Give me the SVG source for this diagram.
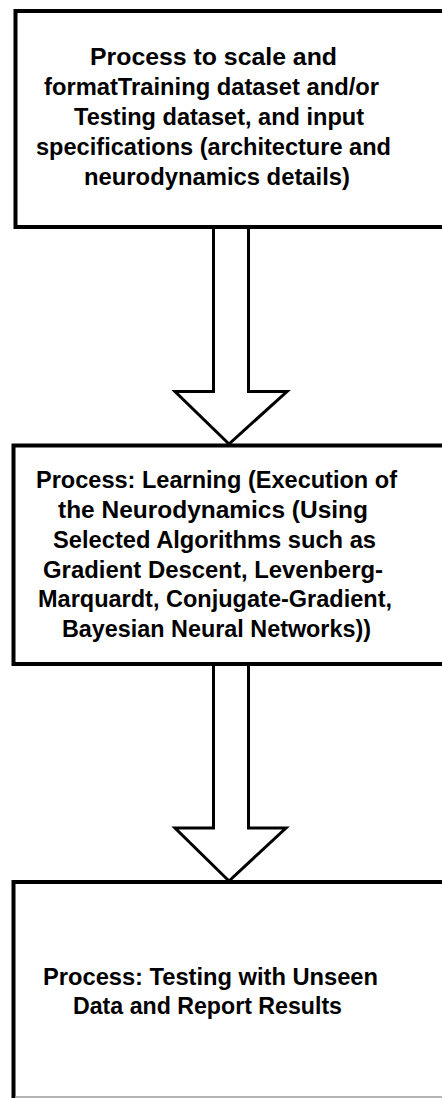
<svg xmlns="http://www.w3.org/2000/svg" width="442" height="1098" viewBox="0 0 442 1098">
  <style>
    .box { fill: #ffffff; stroke: #000000; stroke-width: 4; }
    .edge { fill: none; stroke: #000000; stroke-width: 4; }
    .faint { fill: none; stroke: #9a9a9a; stroke-width: 1.5; }
    .flow { fill: #ffffff; stroke: #000000; stroke-width: 3; stroke-linejoin: miter; }
    .label { font-family: "Liberation Sans", Arial, Helvetica, sans-serif; font-weight: bold; font-size: 23.5px; fill: #000000; }
  </style>
  <rect x="0" y="0" width="442" height="1098" fill="#ffffff"/>

  <!-- block arrows between the stages -->
  <g id="connectors">
    <path class="flow" d="M213.5 227 V391.5 H175 L229 444 L287 391.5 H248.5 V227"/>
    <path class="flow" d="M213.5 664 V828 H175 L229 881 L286 828 H248.5 V664"/>
  </g>

  <!-- stage 1: data preparation -->
  <g id="node-prepare">
    <rect class="box" x="15.5" y="11" width="440" height="216"/>
    <text class="label" x="213.5" y="65" text-anchor="middle" textLength="247" lengthAdjust="spacingAndGlyphs">Process to scale and</text>
    <text class="label" x="211.5" y="95" text-anchor="middle" textLength="335" lengthAdjust="spacingAndGlyphs">formatTraining dataset and/or</text>
    <text class="label" x="219" y="125" text-anchor="middle" textLength="290" lengthAdjust="spacingAndGlyphs">Testing dataset, and input</text>
    <text class="label" x="213.5" y="155" text-anchor="middle" textLength="355" lengthAdjust="spacingAndGlyphs">specifications (architecture and</text>
    <text class="label" x="217" y="185" text-anchor="middle" textLength="266" lengthAdjust="spacingAndGlyphs">neurodynamics details)</text>
  </g>

  <!-- stage 2: learning -->
  <g id="node-learning">
    <rect class="box" x="13.5" y="445.5" width="440" height="218.5"/>
    <text class="label" x="216.5" y="488" text-anchor="middle" textLength="361" lengthAdjust="spacingAndGlyphs">Process: Learning (Execution of</text>
    <text class="label" x="213" y="518" text-anchor="middle" textLength="310" lengthAdjust="spacingAndGlyphs">the Neurodynamics (Using</text>
    <text class="label" x="214.5" y="548" text-anchor="middle" textLength="323" lengthAdjust="spacingAndGlyphs">Selected Algorithms such as</text>
    <text class="label" x="213" y="578" text-anchor="middle" textLength="340" lengthAdjust="spacingAndGlyphs">Gradient Descent, Levenberg-</text>
    <text class="label" x="215" y="607" text-anchor="middle" textLength="354" lengthAdjust="spacingAndGlyphs">Marquardt, Conjugate-Gradient,</text>
    <text class="label" x="216.5" y="637" text-anchor="middle" textLength="309" lengthAdjust="spacingAndGlyphs">Bayesian Neural Networks))</text>
  </g>

  <!-- stage 3: testing and reporting -->
  <g id="node-testing">
    <rect x="13.5" y="882" width="440" height="215" fill="#ffffff"/>
    <path class="edge" d="M13.5 1098 V882 H444"/>
    <line class="faint" x1="15" y1="1097" x2="442" y2="1097"/>
    <text class="label" x="210.5" y="985" text-anchor="middle" textLength="335" lengthAdjust="spacingAndGlyphs">Process: Testing with Unseen</text>
    <text class="label" x="207.5" y="1014" text-anchor="middle" textLength="269" lengthAdjust="spacingAndGlyphs">Data and Report Results</text>
  </g>
</svg>
